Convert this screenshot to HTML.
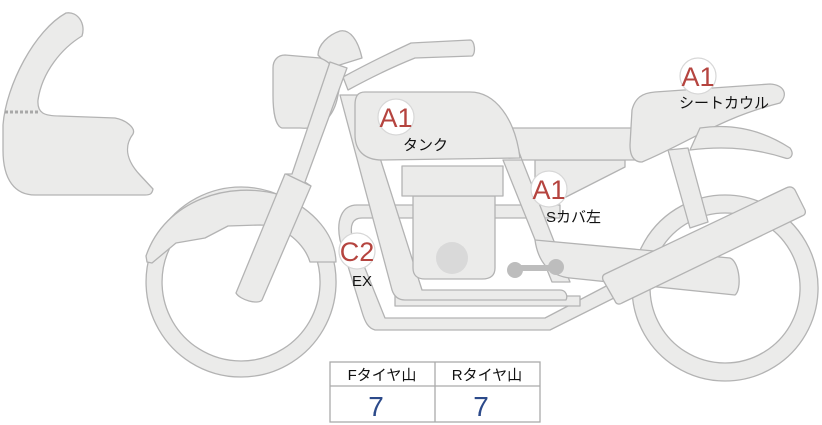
<!DOCTYPE html>
<html><head><meta charset="utf-8"><style>
html,body{margin:0;padding:0;background:#fff;}
svg{display:block}
</style></head><body>
<svg width="822" height="425" viewBox="0 0 822 425" xmlns="http://www.w3.org/2000/svg" font-family="Liberation Sans, Noto Sans CJK JP, sans-serif">
<g fill="#ebebea" stroke="#b3b3b3" stroke-width="1.3" stroke-linejoin="round">
<!-- fairing -->
<path d="M66,13 C78,11 86,24 82,36 C62,48 42,72 38,100 C37,113 44,116 60,116 L115,118 C126,120 136,128 133,134 C124,146 126,160 140,175 L153,189 C152,194 150,195 145,195 L35,195 C15,195 3,180 3,150 L3,125 C6,85 35,30 66,13 Z"/>
<!-- front wheel -->
<path fill-rule="evenodd" d="M241,187 a95,95 0 1,0 0.1,0 Z M241,203 a79,79 0 1,0 0.1,0 Z"/>
<!-- fender -->
<path d="M147,262 L146,256 C165,200 230,180 280,195 C315,210 335,235 336,262 L310,262 C305,245 285,225 260,225 L228,226 L205,238 L176,243 L152,263 Z"/>
<!-- rear wheel -->
<path fill-rule="evenodd" d="M725,195 a93,93 0 1,0 0.1,0 Z M725,213 a75,75 0 1,0 0.1,0 Z"/>
<!-- exhaust pipes -->
<path d="M357,205 L560,205 L560,218 L362,218 C352,218 350,226 352,236 L385,318 L545,318 L612,283 L618,296 L550,330 L375,330 C368,328 365,322 362,312 L340,240 C336,220 342,205 357,205 Z"/>
<path d="M395,296 L580,296 L580,306 L395,306 Z"/>
<!-- frame downtube front -->
<path d="M340,95 L360,95 L422,290 L560,290 C566,290 568,296 566,300 L405,300 C398,300 394,296 392,290 Z"/>
<!-- frame rear downtube -->
<path d="M503,160 L522,160 L570,282 L552,282 Z"/>
<!-- swingarm -->
<path d="M535,240 L730,258 C740,262 742,290 735,295 L570,278 C550,276 538,262 535,240 Z"/>
<!-- rear subframe -->
<path d="M535,160 L625,160 L625,167 L566,197 L535,197 Z"/>
<!-- rear shock -->
<path d="M668,150 L688,148 L708,222 L690,228 Z"/>
<!-- muffler -->
<path d="M605,274 L786,188 C790,186 793,187 795,190 L805,210 C806,213 805,215 802,216 L622,303 C619,305 616,304 615,301 L603,280 C602,277 603,275 605,274 Z"/>
<!-- seat rail -->
<path d="M512,128 L635,128 L635,160 L522,160 C518,150 515,140 512,128 Z"/>
<!-- seat cowl -->
<path d="M655,92 L770,84 C785,85 788,95 780,103 C720,118 690,142 642,162 C633,162 630,155 630,145 L632,110 C635,98 642,93 655,92 Z"/>
<path d="M700,128 C740,122 770,135 790,148 C795,155 790,160 785,158 C760,150 730,145 690,150 Z"/>
<!-- handlebar -->
<path d="M343,77 C365,65 385,55 411,43 L470,40 C475,40 476,54 472,56 L415,58 C390,68 370,78 348,90 Z"/>
<!-- mirror cap -->
<path d="M340,31 C350,29 358,40 362,58 L330,68 L318,55 C318,45 328,35 340,31 Z"/>
<!-- headlight -->
<path d="M285,55 L320,58 C336,64 342,80 338,95 C334,118 320,130 300,128 L282,128 C275,126 273,110 273,95 L273,68 C273,60 278,55 285,55 Z"/>
<!-- fork -->
<path d="M330,62 L347,68 L305,182 L311,186 L262,300 C258,305 240,300 236,293 L285,174 L292,174 Z"/>
<path d="M286,174 L311,186" fill="none"/>
<!-- tank -->
<path d="M365,92 L470,92 C495,92 515,118 520,158 L382,160 C364,160 355,150 355,135 L355,105 C355,96 358,92 365,92 Z"/>
<!-- engine -->
<path d="M413,196 L495,196 L495,268 C495,276 490,279 482,279 L425,279 C417,279 413,275 413,268 Z"/>
<rect x="402" y="166" width="101" height="30"/>
</g>
<circle cx="452" cy="258" r="16" fill="#d9d9d9"/>
<!-- footpeg -->
<g fill="#bdbdbd"><circle cx="515" cy="270" r="8"/><circle cx="556" cy="267" r="8"/><rect x="515" y="265" width="41" height="6"/></g>
<!-- dotted line -->
<line x1="5" y1="112" x2="40" y2="112" stroke="#a8a8a8" stroke-width="3" stroke-dasharray="3,2"/>
<!-- badges -->
<g fill="#fff" stroke="#d7d7d7" stroke-width="1.2">
<circle cx="396" cy="117" r="18"/><circle cx="698" cy="76" r="18"/><circle cx="549" cy="189" r="18"/><circle cx="357" cy="251" r="18"/>
</g>
<g fill="#b5443f" font-size="27" text-anchor="middle">
<text x="396" y="127">A1</text><text x="698" y="86">A1</text><text x="549" y="199">A1</text><text x="357" y="261">C2</text>
</g>
<g fill="#111" font-size="15">
<text x="403" y="150">タンク</text>
<text x="679" y="108">シートカウル</text>
<text x="546" y="222">Sカバ左</text>
<text x="352" y="286">EX</text>
</g>
<!-- table -->
<g fill="#fff" stroke="#aaaaaa" stroke-width="1.3">
<rect x="330" y="362" width="210" height="60"/>
<line x1="330" y1="386" x2="540" y2="386"/>
<line x1="435" y1="362" x2="435" y2="422"/>
</g>
<g font-size="15" fill="#111" text-anchor="middle"><text x="382" y="380">Fタイヤ山</text><text x="487" y="380">Rタイヤ山</text></g>
<g font-size="28" fill="#2c4a8a" text-anchor="middle"><text x="376" y="416">7</text><text x="481" y="416">7</text></g>
</svg>
</body></html>
